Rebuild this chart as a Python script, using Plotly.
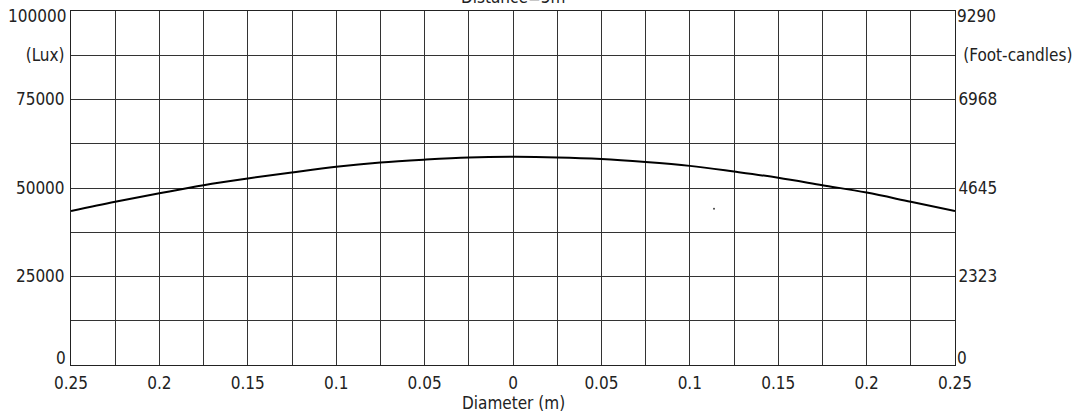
import plotly.graph_objects as go

# Data
diameter = [-0.25, -0.225, -0.2, -0.175, -0.15, -0.125, -0.1, -0.075, -0.05, -0.025, 0.0,
            0.025, 0.05, 0.075, 0.1, 0.125, 0.15, 0.175, 0.2, 0.225, 0.25]
lux = [43500, 46100, 48500, 50800, 52700, 54400, 56000, 57200, 58000, 58600, 58800,
       58650, 58200, 57350, 56250, 54650, 52900, 50800, 48700, 46100, 43500]
stray_x = [0.1137]
stray_y = [44150]

x_tickvals = [round(-0.25 + 0.025 * i, 3) for i in range(21)]
x_labels = {-0.25: "0.25", -0.2: "0.2", -0.15: "0.15", -0.1: "0.1", -0.05: "0.05", 0.0: "0",
            0.05: "0.05", 0.1: "0.1", 0.15: "0.15", 0.2: "0.2", 0.25: "0.25"}
x_ticktext = [x_labels.get(v, "") for v in x_tickvals]

y_tickvals = [0, 12500, 25000, 37500, 50000, 62500, 75000, 87500, 100000]
y_left_text = ["", "", "25000", "", "50000", "", "75000", "(Lux)", ""]
y_right_text = ["", "", "2323", "", "4645", "", "6968", "\u00a0(Foot-candles)", ""]
# end labels drawn separately (nudged inward like in the reference)
left_end_vals = [0, 100000]
left_end_text = ["0", "100000"]
right_end_text = ["0", "9290"]

FONT = "DejaVu Sans Condensed, DejaVu Sans, sans-serif"
FS = 17
TXT = "#222"

fig = go.Figure()
fig.add_trace(go.Scatter(x=diameter, y=lux, mode="lines",
                         line=dict(color="black", width=2, shape="spline", smoothing=1.0),
                         showlegend=False, hoverinfo="skip"))
fig.add_trace(go.Scatter(x=stray_x, y=stray_y, mode="markers",
                         marker=dict(color="#444", size=2), showlegend=False, hoverinfo="skip"))
fig.add_trace(go.Scatter(x=[0], y=[0], yaxis="y2", mode="markers",
                         marker=dict(opacity=0), showlegend=False, hoverinfo="skip"))

annotations = [
    dict(text="Distance=5m", x=0.5, y=1, xref="paper", yref="paper",
         xanchor="center", yanchor="bottom", yshift=2, showarrow=False,
         font=dict(size=FS, color=TXT)),
    dict(text="Diameter (m)", x=0.5, y=0, xref="paper", yref="paper",
         xanchor="center", yanchor="top", yshift=-26, showarrow=False,
         font=dict(size=FS, color=TXT)),
]
shifts = [7, -5]
for v, lt, rt, s in zip(left_end_vals, left_end_text, right_end_text, shifts):
    annotations.append(dict(text=lt, x=0, y=v, xref="paper", yref="y", xanchor="right",
                            yanchor="middle", xshift=-3, yshift=s, showarrow=False,
                            font=dict(size=FS, color=TXT)))
    annotations.append(dict(text=rt, x=1, y=v, xref="paper", yref="y", xanchor="left",
                            yanchor="middle", xshift=0, yshift=s, showarrow=False,
                            font=dict(size=FS, color=TXT)))

fig.update_layout(
    width=1084, height=417,
    margin=dict(l=71, r=129, t=11, b=52),
    paper_bgcolor="white", plot_bgcolor="white",
    font=dict(family=FONT, size=FS, color=TXT),
    xaxis=dict(range=[-0.25, 0.25], tickvals=x_tickvals, ticktext=x_ticktext,
               showgrid=True, gridcolor="#333", gridwidth=1, zeroline=False,
               showline=True, linecolor="#222", linewidth=1, mirror=True,
               ticks="", ticklen=0, automargin=False, ticklabelstandoff=3),
    yaxis=dict(range=[0, 100000], tickvals=y_tickvals, ticktext=y_left_text,
               showgrid=True, gridcolor="#333", gridwidth=1, zeroline=False,
               showline=True, linecolor="#222", linewidth=1,
               ticks="", ticklabelstandoff=2, automargin=False),
    yaxis2=dict(range=[0, 100000], tickvals=y_tickvals, ticktext=y_right_text,
                overlaying="y", side="right", showgrid=False, zeroline=False,
                showline=True, linecolor="#222", linewidth=1,
                ticks="", ticklabelstandoff=-1, automargin=False),
    annotations=annotations,
)

fig.write_html("out.html", config={"displayModeBar": False},
               post_script="document.body.style.margin='0';")
